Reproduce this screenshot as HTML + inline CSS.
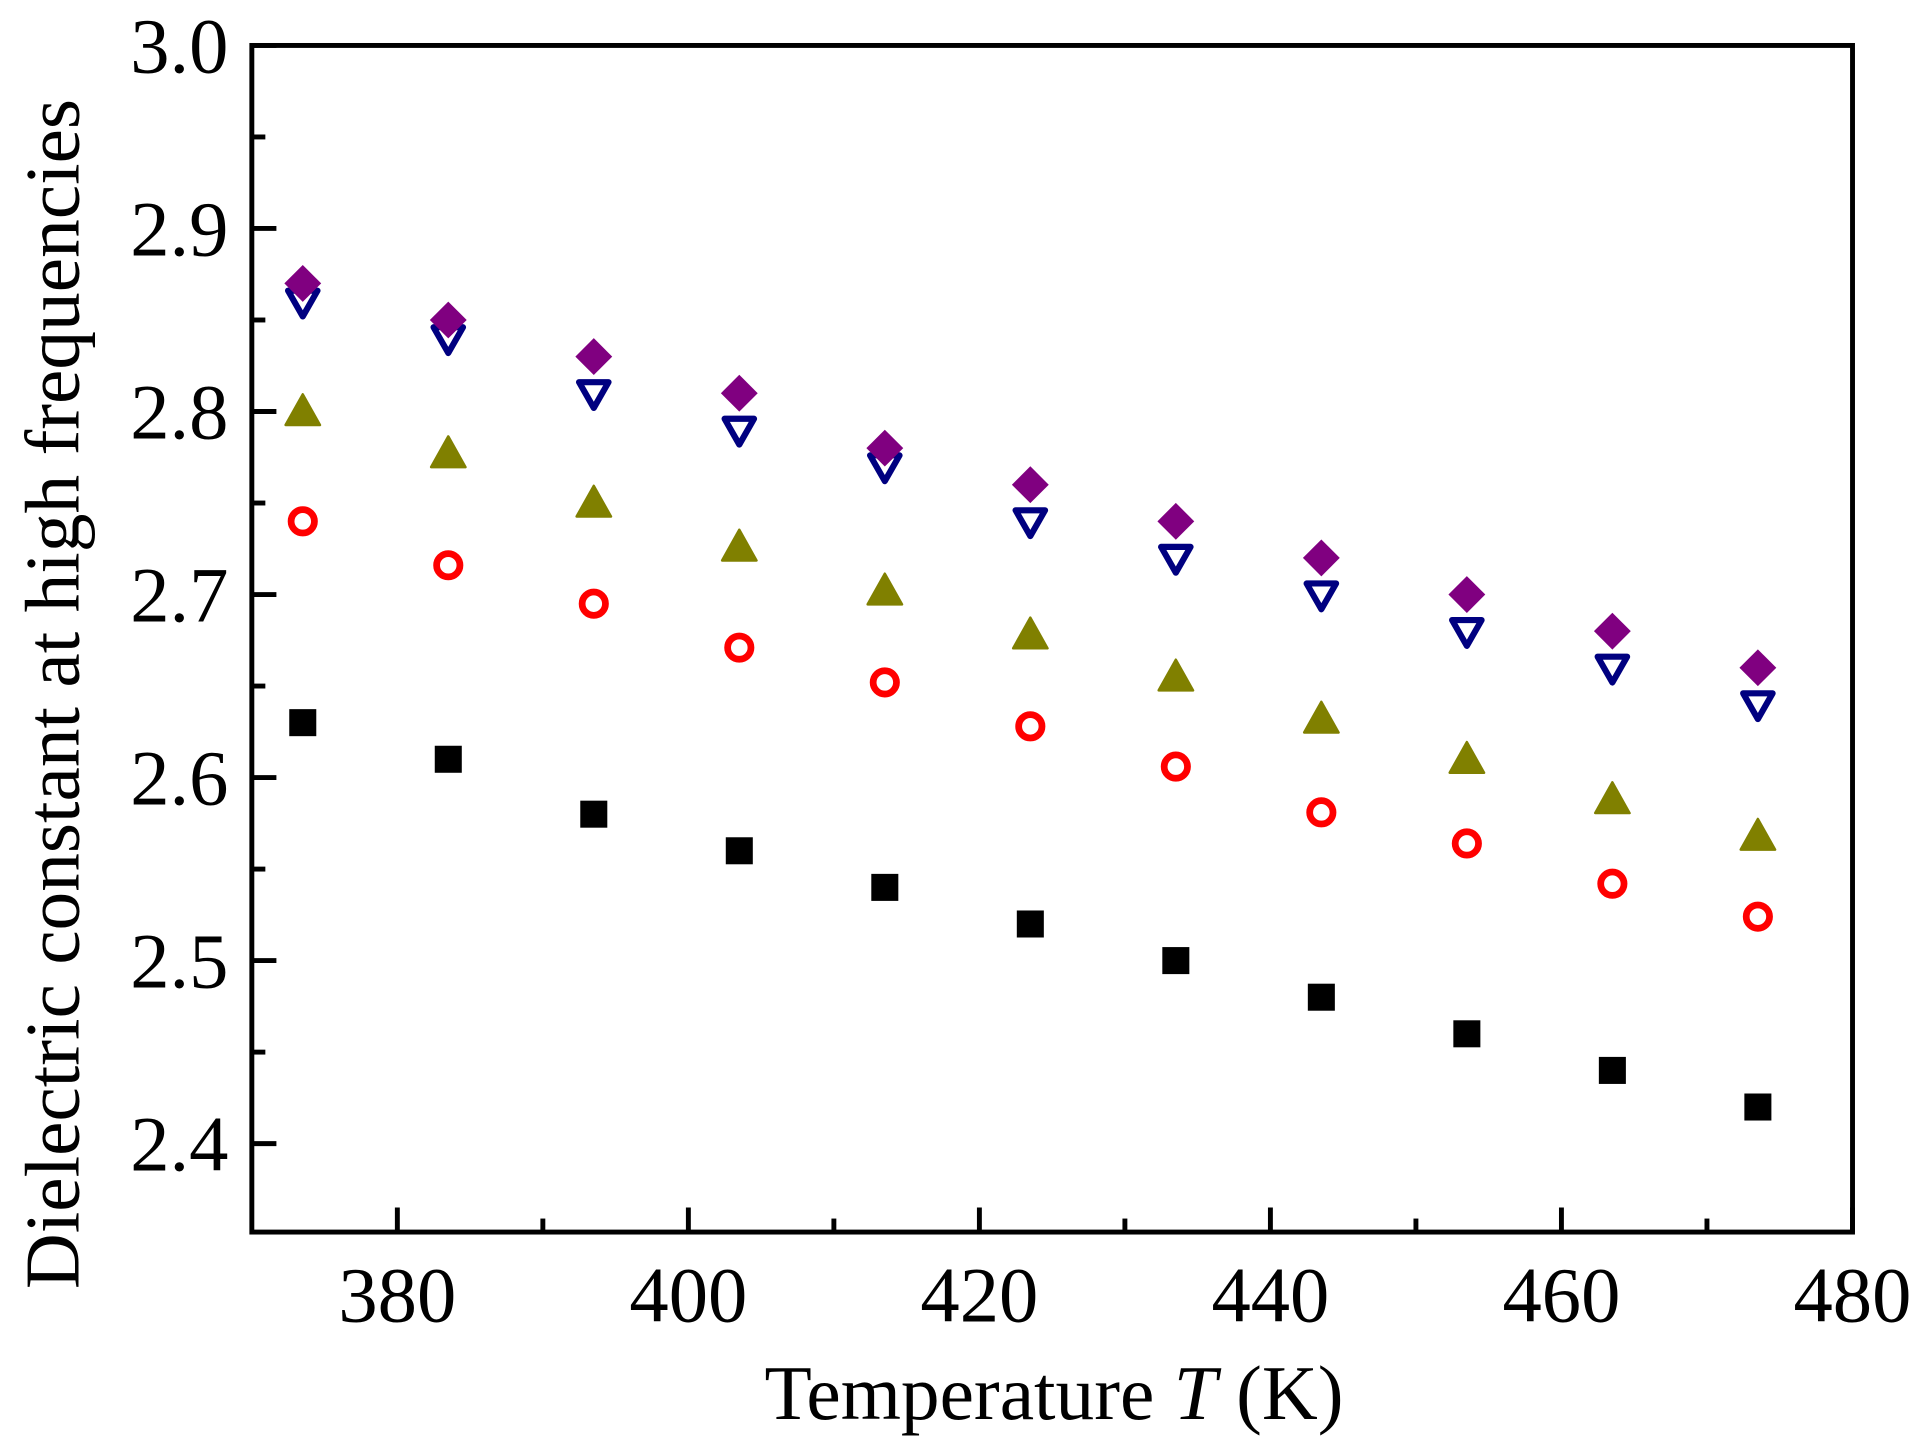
<!DOCTYPE html>
<html><head><style>body{margin:0;background:#fff}svg{display:block}</style></head>
<body>
<svg width="1925" height="1449" viewBox="0 0 1567 1179.6" preserveAspectRatio="none" xmlns="http://www.w3.org/2000/svg" font-family="Liberation Serif, serif">
<rect width="1567" height="1180" fill="#fff"/>
<g id="pts"></g>
<rect x="205" y="37" width="1303" height="966" fill="none" stroke="#000" stroke-width="4"/>
<g stroke="#000" stroke-width="4" id="ticks"></g>
<g font-size="64" fill="#000" id="lbl"></g>
<text x="858" y="1155" font-size="63" text-anchor="middle">Temperature <tspan font-style="italic">T</tspan> (K)</text>
<text transform="translate(64,565) rotate(-90)" font-size="63" text-anchor="middle">Dielectric constant at high frequencies</text>
<script>
var ns="http://www.w3.org/2000/svg";
function X(v){return 205+(v-370)*11.845;}
function Y(v){return 37+(3.0-v)*1490;}
function el(p,t,a,txt){var e=document.createElementNS(ns,t);for(var k in a)e.setAttribute(k,a[k]);if(txt)e.textContent=txt;document.getElementById(p).appendChild(e);}
for(var v=380;v<=480;v+=10){var maj=(v%20==0);el('ticks','line',{x1:X(v),x2:X(v),y1:1003,y2:1003-(maj?20:11)});if(maj)el('lbl','text',{x:X(v),y:1076,'text-anchor':'middle'},String(v));}
for(var i=0;i<=12;i++){var v=2.4+i*0.05;var y=Y(v);var maj=(i%2==0);el('ticks','line',{x1:205,x2:205+(maj?20:11),y1:y,y2:y});if(maj)el('lbl','text',{x:186,y:y+22,'text-anchor':'end'},v.toFixed(1));}
var sq=[2.63,2.61,2.58,2.56,2.54,2.52,2.50,2.48,2.46,2.44,2.42];
var ci=[2.74,2.716,2.695,2.671,2.652,2.628,2.606,2.581,2.564,2.542,2.524];
var tu=[2.80,2.777,2.75,2.726,2.702,2.678,2.655,2.632,2.61,2.588,2.568];
var td=[2.86,2.84,2.81,2.79,2.77,2.74,2.72,2.70,2.68,2.66,2.64];
var di=[2.87,2.85,2.83,2.81,2.78,2.76,2.74,2.72,2.70,2.68,2.66];
for(var i=0;i<11;i++){var x=X(373.5+10*i);
var y=Y(sq[i]);el('pts','rect',{x:x-11,y:y-11,width:22,height:22,fill:'#000'});
y=Y(ci[i]);el('pts','circle',{cx:x,cy:y,r:9.5,fill:'none',stroke:'#f00','stroke-width':5.5});
y=Y(tu[i]);el('pts','polygon',{points:(x)+','+(y-14)+' '+(x+14)+','+(y+11)+' '+(x-14)+','+(y+11),fill:'#808000',stroke:'#808000','stroke-width':2,'stroke-linejoin':'round'});
y=Y(td[i]);el('pts','polygon',{points:(x-12)+','+(y-9)+' '+(x+12)+','+(y-9)+' '+(x)+','+(y+12),fill:'none',stroke:'#000080','stroke-width':5,'stroke-linejoin':'round'});
y=Y(di[i]);el('pts','polygon',{points:x+','+(y-15)+' '+(x+15)+','+y+' '+x+','+(y+15)+' '+(x-15)+','+y,fill:'#800080'});
}
</script>
</svg>
</body></html>
